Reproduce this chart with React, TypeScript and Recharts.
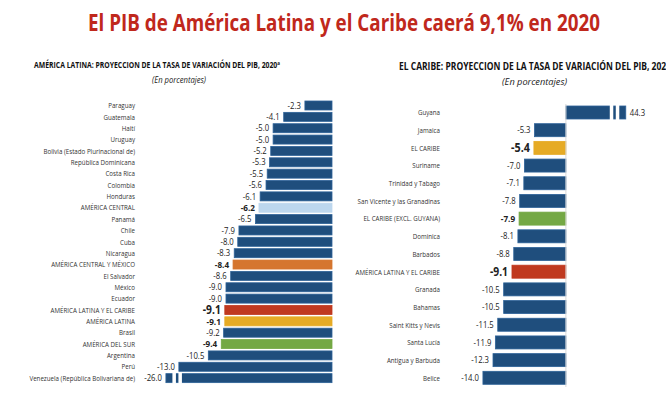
import { BarChart, Bar, XAxis, YAxis, LabelList, ReferenceLine } from 'recharts';

// América Latina
const latamNames = [
  'Paraguay', 'Guatemala', 'Haití', 'Uruguay', 'Bolivia (Estado Plurinacional de)',
  'República Dominicana', 'Costa Rica', 'Colombia', 'Honduras', 'AMÉRICA CENTRAL',
  'Panamá', 'Chile', 'Cuba', 'Nicaragua', 'AMÉRICA CENTRAL Y MÉXICO', 'El Salvador',
  'México', 'Ecuador', 'AMÉRICA LATINA Y EL CARIBE', 'AMÉRICA LATINA', 'Brasil',
  'AMÉRICA DEL SUR', 'Argentina', 'Perú', 'Venezuela (República Bolivariana de)',
];
const latamValues = [
  -2.3, -4.1, -5.0, -5.0, -5.2, -5.3, -5.5, -5.6, -6.1, -6.2, -6.5, -7.9, -8.0, -8.3,
  -8.4, -8.6, -9.0, -9.0, -9.1, -9.1, -9.2, -9.4, -10.5, -13.0, -26.0,
];

// El Caribe
const caribeNames = [
  'Guyana', 'Jamaica', 'EL CARIBE', 'Suriname', 'Trinidad y Tabago',
  'San Vicente y las Granadinas', 'EL CARIBE (EXCL. GUYANA)', 'Dominica', 'Barbados',
  'AMÉRICA LATINA Y EL CARIBE', 'Granada', 'Bahamas', 'Saint Kitts y Nevis',
  'Santa Lucía', 'Antigua y Barbuda', 'Belice',
];
const caribeValues = [
  44.3, -5.3, -5.4, -7.0, -7.1, -7.8, -7.9, -8.1, -8.8, -9.1, -10.5, -10.5, -11.5,
  -11.9, -12.3, -14.0,
];

const BLUE = '#1f4e7d';
const highlight: Record<string, string> = {
  'AMÉRICA CENTRAL': '#bdd7ee',
  'AMÉRICA CENTRAL Y MÉXICO': '#d5762f',
  'AMÉRICA LATINA Y EL CARIBE': '#c0391f',
  'AMÉRICA LATINA': '#e6ab25',
  'AMÉRICA DEL SUR': '#74a844',
  'EL CARIBE': '#e6ab25',
  'EL CARIBE (EXCL. GUYANA)': '#74a844',
};
const bigLabel: Record<string, number> = {
  'AMÉRICA LATINA Y EL CARIBE': 12,
  'EL CARIBE': 12.5,
};

const FONT = "'Open Sans', 'Noto Sans', sans-serif";
const SQUEEZE = 0.86;

function build(names: string[], values: number[], lo: number, hi: number) {
  return names.map((name, i) => ({
    name,
    value: values[i],
    shown: Math.min(hi, Math.max(lo, values[i])),
    broken: values[i] < lo || values[i] > hi,
    color: highlight[name] ?? BLUE,
  }));
}

const latamData = build(latamNames, latamValues, -14.1, 0);
const caribeData = build(caribeNames, caribeValues, -20, 10.1);

const BrokenBar = (props: any) => {
  const { x, y, width, height, payload } = props;
  const left = width < 0 ? x + width : x;
  const w = Math.abs(width);
  const c = payload.color;
  const stroke = c === BLUE ? '#2d6298' : c;
  const gaps: number[][] = [];
  if (payload.broken) {
    if (payload.value < 0) {
      gaps.push([left + 6.5, 3.5], [left + 12.5, 3.5]);
    } else {
      const far = left + w;
      gaps.push([far - 10, 3.5], [far - 16, 3.5]);
    }
  }
  return (
    <g>
      <rect x={left} y={y} width={w} height={height} fill={c} stroke={stroke} strokeWidth={0.8} />
      {gaps.map(([gx, gw], i) => (
        <rect key={i} x={gx} y={y - 1} width={gw} height={height + 2} fill="#fff" />
      ))}
    </g>
  );
};

const makeValueLabel = (data: any[]) => (props: any) => {
  const { x, y, width, height, index } = props;
  const d = data[index];
  const left = width < 0 ? x + width : x;
  const right = width < 0 ? x : x + width;
  const agg = d.name === d.name.toUpperCase();
  const size = bigLabel[d.name] ?? (agg ? 9.5 : 9);
  const neg = d.value < 0;
  const tx = neg ? left - 4 : right + 4;
  return (
    <text
      transform={`translate(${tx},${y + height / 2}) scale(${SQUEEZE},1)`}
      dy="0.35em"
      textAnchor={neg ? 'end' : 'start'}
      fontFamily={FONT}
      fontSize={size}
      fontWeight={agg ? 700 : 400}
      fill="#222"
    >
      {d.value.toFixed(1)}
    </text>
  );
};

const makeTick = (xEnd: number) => (props: any) => {
  const { y, payload } = props;
  return (
    <text
      transform={`translate(${xEnd},${y}) scale(${SQUEEZE},1)`}
      dy="0.35em"
      textAnchor="end"
      fontFamily={FONT}
      fontSize={7.2}
      fill="#333"
    >
      {payload.value}
    </text>
  );
};

export default function App() {
  return (
    <div style={{ position: 'absolute', left: 0, top: 0, width: 666, height: 394, background: '#fff', overflow: 'hidden', fontFamily: FONT }}>
      <svg width={666} height={100} style={{ position: 'absolute', left: 0, top: 0 }}>
        <text x={88} y={31} fontFamily={FONT} fontWeight={700} fontSize={23.4} fill="#c0281c" textLength={512} lengthAdjust="spacingAndGlyphs">
          El PIB de América Latina y el Caribe caerá 9,1% en 2020
        </text>
        <text x={34} y={67.5} fontFamily={FONT} fontWeight={700} fontSize={8.4} fill="#111" textLength={246} lengthAdjust="spacingAndGlyphs">
          AMÉRICA LATINA: PROYECCION DE LA TASA DE VARIACIÓN DEL PIB, 2020<tspan fontSize={5.5} dy={-3}>a</tspan>
        </text>
        <text x={152} y={83} fontFamily={FONT} fontStyle="italic" fontSize={8.4} fill="#222" textLength={54} lengthAdjust="spacingAndGlyphs">
          (En porcentajes)
        </text>
        <text x={399} y={69.5} fontFamily={FONT} fontWeight={700} fontSize={9.8} fill="#111" textLength={272} lengthAdjust="spacingAndGlyphs">
          EL CARIBE: PROYECCION DE LA TASA DE VARIACIÓN DEL PIB, 2020
        </text>
        <text x={502} y={85} fontFamily={FONT} fontStyle="italic" fontSize={9.6} fill="#222" textLength={65} lengthAdjust="spacingAndGlyphs">
          (En porcentajes)
        </text>
      </svg>

      <div style={{ position: 'absolute', left: 0, top: 100 }}>
        <BarChart width={340} height={284} data={latamData} layout="vertical" margin={{ top: 0, right: 8, bottom: 0, left: 0 }} barSize={9}>
          <XAxis type="number" domain={[-16.3, 0]} hide />
          <YAxis type="category" dataKey="name" width={140} axisLine={false} tickLine={false} interval={0} tick={makeTick(135)} />
          <Bar dataKey="shown" shape={BrokenBar} isAnimationActive={false}>
            <LabelList dataKey="value" content={makeValueLabel(latamData)} />
          </Bar>
        </BarChart>
      </div>

      <div style={{ position: 'absolute', left: 340, top: 104 }}>
        <BarChart width={326} height={283} data={caribeData} layout="vertical" margin={{ top: 0, right: 10, bottom: 0, left: 0 }} barSize={13}>
          <XAxis type="number" domain={[-20.4, 15.2]} hide />
          <YAxis type="category" dataKey="name" width={105} axisLine={false} tickLine={false} interval={0} tick={makeTick(100)} />
          <ReferenceLine x={0} stroke="#d9d9d9" strokeWidth={1} ifOverflow="extendDomain" />
          <Bar dataKey="shown" shape={BrokenBar} isAnimationActive={false}>
            <LabelList dataKey="value" content={makeValueLabel(caribeData)} />
          </Bar>
        </BarChart>
      </div>
    </div>
  );
}
